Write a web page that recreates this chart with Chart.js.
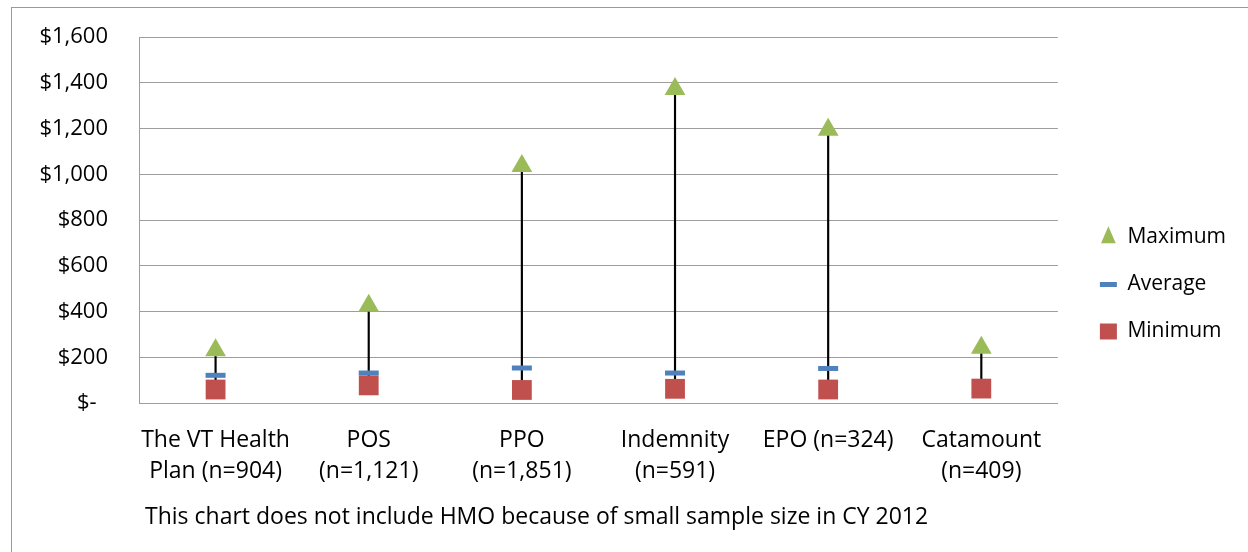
<!DOCTYPE html>
<html>
<head>
<meta charset="utf-8">
<script src="https://cdn.jsdelivr.net/npm/chart.js@4"></script>
<style>
  html, body { margin: 0; padding: 0; background: #fff; }
  #wrap { position: relative; width: 1248px; height: 552px; overflow: hidden; }
  #frame { position: absolute; left: 11px; top: 7px; width: 1300px; height: 600px; border: 1px solid #9a9a9a; }
  #note { position: absolute; left: 145px; top: 500px; font-family: "Open Sans", sans-serif; font-size: 23px; line-height: 30px; color: #000; white-space: nowrap; }
  #chart { position: absolute; left: 0; top: 0; }
</style>
</head>
<body>
<div id="wrap">
  <div id="frame"></div>
  <canvas id="chart" width="1248" height="552"></canvas>
  <div id="note">This chart does not include HMO because of small sample size in CY 2012</div>
</div>
<script>
// plan types, two-line labels as in the original
const plans = [
  ['The VT Health', 'Plan (n=904)'],
  ['POS', '(n=1,121)'],
  ['PPO', '(n=1,851)'],
  ['Indemnity', '(n=591)'],
  ['EPO (n=324)'],
  ['Catamount', '(n=409)']
];
const maximum = [231, 425, 1036, 1373, 1194, 241];
const average = [121, 131, 153, 131, 151, null];
const minimum = [59, 77, 57, 62, 59, 63];
const yTicks = [0, 200, 400, 600, 800, 1000, 1200, 1400, 1600];

Chart.defaults.font.family = '"Open Sans", sans-serif';
Chart.defaults.font.size = 23;
Chart.defaults.color = '#000';

// move the legend to where Excel had it
const nudgeLegend = {
  id: 'nudgeLegend',
  afterLayout(chart) {
    const lg = chart.legend;
    lg.left += 16; lg.right += 16;
    lg.top -= 10; lg.bottom -= 10;
  }
};

function money(v) {
  if (v === 0) return '$-  ';
  return '$' + v.toLocaleString('en-US');
}

new Chart(document.getElementById('chart').getContext('2d'), {
  type: 'bar',
  data: {
    labels: plans,
    datasets: [
      {
        type: 'line', label: 'Maximum', data: maximum, showLine: false,
        pointStyle: 'triangle', pointRadius: 12, pointBorderWidth: 0,
        pointBackgroundColor: '#9BBB59', pointBorderColor: '#9BBB59',
        backgroundColor: '#9BBB59', borderColor: '#9BBB59'
      },
      {
        type: 'line', label: 'Average', data: average, showLine: false,
        pointStyle: 'line', pointRadius: 10, pointBorderWidth: 5,
        pointBackgroundColor: '#4F81BD', pointBorderColor: '#4F81BD',
        backgroundColor: '#4F81BD', borderColor: '#4F81BD'
      },
      {
        type: 'line', label: 'Minimum', data: minimum, showLine: false,
        pointStyle: 'rect', pointRadius: 14, pointBorderWidth: 0,
        pointBackgroundColor: '#C0504D', pointBorderColor: '#C0504D',
        backgroundColor: '#C0504D', borderColor: '#C0504D'
      },
      {
        // high-low line from minimum to maximum
        label: 'range', data: minimum.map((m, i) => [m, maximum[i]]),
        backgroundColor: '#000', borderWidth: 0, barThickness: 1.5
      }
    ]
  },
  options: {
    responsive: false,
    animation: false,
    layout: { padding: { top: 37, right: 28, bottom: 0, left: 0 } },
    plugins: {
      tooltip: { enabled: false },
      legend: {
        position: 'right',
        labels: {
          font: { size: 21 },
          usePointStyle: true, boxHeight: 16, pointStyleWidth: 17, padding: 26,
          filter: item => item.datasetIndex < 3
        }
      }
    },
    scales: {
      x: {
        grid: { display: false },
        border: { display: true, color: '#9d9d9d', width: 1 },
        ticks: { padding: 14, font: { lineHeight: 1.35 }, maxRotation: 0, autoSkip: false },
        afterFit: s => { s.height = 149; }
      },
      y: {
        min: 0, max: 1600,
        afterBuildTicks: s => { s.ticks = yTicks.map(v => ({ value: v })); },
        grid: { color: '#9d9d9d', lineWidth: 1, drawTicks: true, tickLength: 31, tickColor: 'rgba(0,0,0,0)' },
        border: { display: true, color: '#9d9d9d', width: 1 },
        ticks: { padding: 0, font: { size: 22 }, callback: v => money(v) },
        afterFit: s => { s.width = 139; }
      }
    }
  },
  plugins: [nudgeLegend]
});
</script>
</body>
</html>
